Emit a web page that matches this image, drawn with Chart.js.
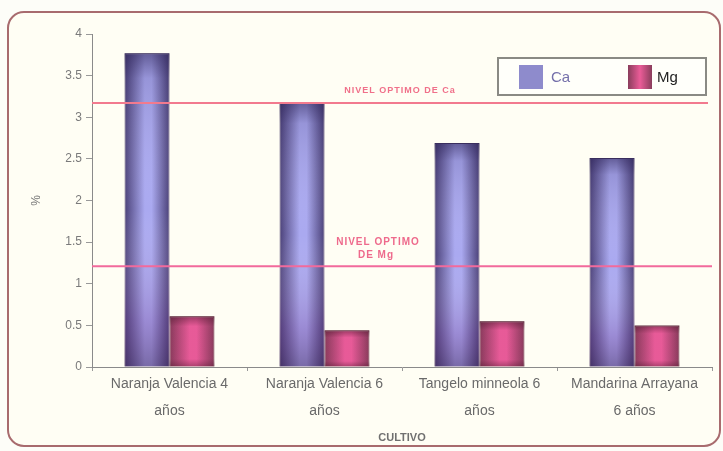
<!DOCTYPE html>
<html>
<head>
<meta charset="utf-8">
<script src="https://cdn.jsdelivr.net/npm/chart.js@4.4.1/dist/chart.umd.min.js"></script>
<style>
  html, body { margin: 0; padding: 0; background: #fdfdf8; }
  #wrap { width: 723px; height: 451px; }
</style>
</head>
<body>
<div id="wrap"><canvas id="grafico"></canvas></div>
<script>
// ---- datos
const cultivos = [
  ["Naranja Valencia 4", "años"],
  ["Naranja Valencia 6", "años"],
  ["Tangelo minneola 6", "años"],
  ["Mandarina Arrayana", "6 años"]
];
const calcio = [3.77, 3.18, 2.69, 2.51];
const magnesio = [0.61, 0.44, 0.55, 0.50];
const nivelCa = 3.17;
const nivelMg = 1.21;
const ticksY = [0, 0.5, 1, 1.5, 2, 2.5, 3, 3.5, 4];

const CAT_PCT = 0.58;

// gradiente horizontal de cada barra (oscuro en los bordes, claro al centro)
function gradBarra(ctx, borde, centro) {
  const chart = ctx.chart;
  const x = chart.scales.x;
  if (!x || ctx.type !== 'data') return centro;
  const ancho = x.width / chart.data.labels.length;
  const gw = ancho * CAT_PCT;
  const bw = gw / 2;
  const izq = x.getPixelForValue(ctx.dataIndex) - gw / 2 + ctx.datasetIndex * bw;
  if (!isFinite(izq) || !isFinite(bw) || bw <= 0) return centro;
  const g = chart.ctx.createLinearGradient(izq, 0, izq + bw, 0);
  g.addColorStop(0, borde);
  g.addColorStop(0.45, centro);
  g.addColorStop(0.6, centro);
  g.addColorStop(1, borde);
  return g;
}

// marco con esquinas redondeadas
const marco = {
  id: 'marco',
  beforeDraw(chart) {
    const c = chart.ctx;
    c.save();
    c.beginPath();
    c.roundRect(8, 12, 712, 434, 16);
    c.fillStyle = '#fffef4';
    c.fill();
    c.lineWidth = 2;
    c.strokeStyle = '#a86b6e';
    c.stroke();
    c.restore();
  }
};

// sombreado vertical sobre las barras
const sombra = {
  id: 'sombra',
  afterDatasetsDraw(chart) {
    const c = chart.ctx;
    chart.data.datasets.forEach((ds, i) => {
      chart.getDatasetMeta(i).data.forEach(bar => {
        const top = bar.y, base = bar.base, w = bar.width;
        if (!isFinite(top) || !isFinite(base) || base - top < 1) return;
        const g = c.createLinearGradient(0, top, 0, base);
        if (i === 0) {
          g.addColorStop(0, 'rgba(40,30,80,0.55)');
          g.addColorStop(0.08, 'rgba(40,30,80,0.15)');
          g.addColorStop(0.5, 'rgba(255,255,255,0)');
          g.addColorStop(0.85, 'rgba(110,50,130,0.25)');
          g.addColorStop(1, 'rgba(60,30,80,0.45)');
        } else {
          g.addColorStop(0, 'rgba(70,20,40,0.5)');
          g.addColorStop(0.2, 'rgba(70,20,40,0.05)');
          g.addColorStop(0.85, 'rgba(70,20,40,0.05)');
          g.addColorStop(1, 'rgba(70,20,40,0.4)');
        }
        c.save();
        c.fillStyle = g;
        c.fillRect(bar.x - w / 2, top, w, base - top);
        c.restore();
      });
    });
  }
};

// lineas de nivel optimo
const niveles = {
  id: 'niveles',
  afterDatasetsDraw(chart) {
    const c = chart.ctx, a = chart.chartArea, y = chart.scales.y;
    c.save();
    const yCa = y.getPixelForValue(nivelCa);
    const yMg = y.getPixelForValue(nivelMg);
    c.lineWidth = 2;
    c.strokeStyle = '#f27a8e';
    c.beginPath(); c.moveTo(a.left, yCa); c.lineTo(a.right - 4, yCa); c.stroke();
    c.strokeStyle = '#f26a9c';
    c.beginPath(); c.moveTo(a.left, yMg); c.lineTo(a.right, yMg); c.stroke();
    c.textAlign = 'center';
    c.textBaseline = 'middle';
    c.fillStyle = '#f0708a';
    c.letterSpacing = '1px';
    c.font = 'bold 9px "Liberation Sans", Arial, sans-serif';
    c.fillText('NIVEL OPTIMO DE Ca', 400, yCa - 13);
    c.fillStyle = '#ee6a8c';
    c.font = 'bold 10px "Liberation Sans", Arial, sans-serif';
    c.fillText('NIVEL OPTIMO', 378, yMg - 24);
    c.fillText('DE Mg', 376, yMg - 11);
    c.restore();
  }
};

// leyenda en recuadro
const leyenda = {
  id: 'leyenda',
  afterDraw(chart) {
    const c = chart.ctx;
    c.save();
    c.fillStyle = '#fffffa';
    c.fillRect(498, 58, 208, 37);
    c.lineWidth = 2;
    c.strokeStyle = '#8a8a84';
    c.strokeRect(498, 58, 208, 37);
    const ds = chart.data.datasets;
    c.fillStyle = '#8e8bcc';
    c.fillRect(519, 65, 24, 24);
    const gm = c.createLinearGradient(628, 0, 652, 0);
    gm.addColorStop(0, '#8a3d5c');
    gm.addColorStop(0.5, '#ea5c98');
    gm.addColorStop(1, '#8a3d5c');
    c.fillStyle = gm;
    c.fillRect(628, 65, 24, 24);
    c.font = '15px "Liberation Sans", Arial, sans-serif';
    c.textBaseline = 'middle';
    c.fillStyle = '#7570aa';
    c.fillText(ds[0].label, 551, 78);
    c.fillStyle = '#222';
    c.fillText(ds[1].label, 657, 78);
    c.restore();
  }
};

new Chart(document.getElementById('grafico'), {
  type: 'bar',
  data: {
    labels: cultivos,
    datasets: [{
      label: 'Ca',
      data: calcio,
      backgroundColor: ctx => gradBarra(ctx, '#4a4078', '#aaa9f0'),
      borderColor: '#4d3f6c',
      borderWidth: 1
    }, {
      label: 'Mg',
      data: magnesio,
      backgroundColor: ctx => gradBarra(ctx, '#8c3c5e', '#f05e9e'),
      borderColor: '#6e3046',
      borderWidth: 1
    }]
  },
  options: {
    responsive: true,
    maintainAspectRatio: false,
    animation: false,
    datasets: { bar: { categoryPercentage: CAT_PCT, barPercentage: 1 } },
    layout: { padding: { left: 25, top: 34, right: 11, bottom: 0 } },
    plugins: {
      legend: { display: false },
      tooltip: { enabled: false }
    },
    scales: {
      x: {
        grid: { display: true, drawOnChartArea: false, tickLength: 4, color: '#999' },
        border: { color: '#8a8a8a', width: 1 },
        ticks: {
          color: '#6a6a6a',
          font: { family: '"Liberation Sans", Arial, sans-serif', size: 14, lineHeight: 1.93 },
          maxRotation: 0,
          autoSkip: false,
          padding: 0
        },
        title: {
          display: true,
          text: 'CULTIVO',
          color: '#707070',
          font: { family: '"Liberation Sans", Arial, sans-serif', size: 11, weight: 'bold' },
          padding: { top: 0, bottom: 6 }
        },
        afterFit: s => { s.height = 84; }
      },
      y: {
        min: 0,
        max: 4,
        afterBuildTicks: s => { s.ticks = ticksY.map(v => ({ value: v })); },
        grid: { display: true, drawOnChartArea: false, tickLength: 6, color: '#999' },
        border: { color: '#8a8a8a', width: 1 },
        ticks: {
          color: '#7a7a7a',
          font: { family: '"Liberation Sans", Arial, sans-serif', size: 12 },
          padding: 4,
          callback: v => String(v)
        },
        title: {
          display: true,
          text: '%',
          color: '#777',
          font: { family: '"Liberation Sans", Arial, sans-serif', size: 12 },
          padding: { top: 4, bottom: 0 }
        },
        afterFit: s => { s.width = 67; }
      }
    }
  },
  plugins: [marco, sombra, niveles, leyenda]
});
</script>
</body>
</html>
